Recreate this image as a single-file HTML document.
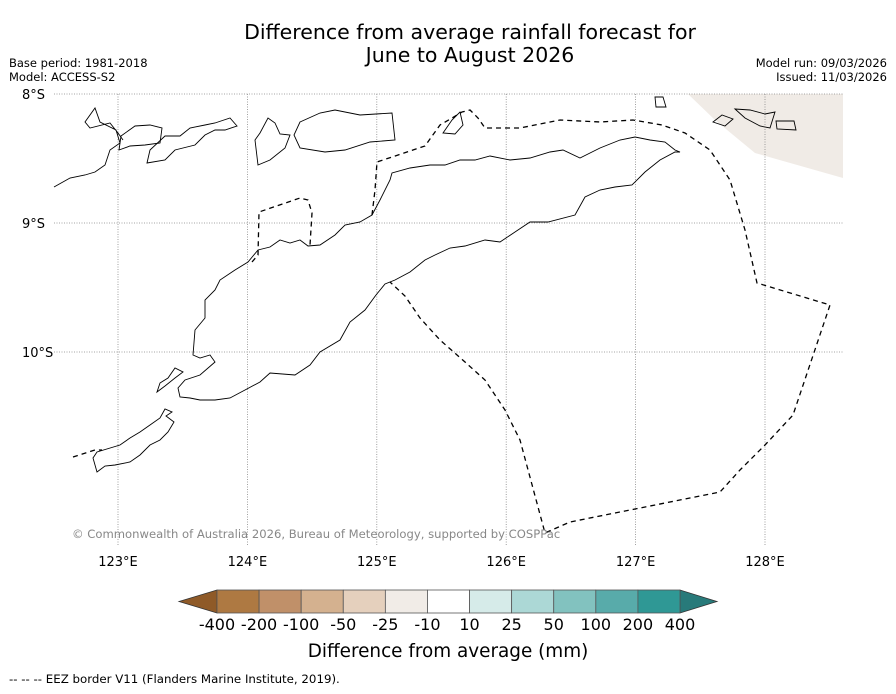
<!DOCTYPE html>
<html><head><meta charset="utf-8"><style>
body{margin:0;background:#fff;font-family:"DejaVu Sans","Liberation Sans",sans-serif;}
svg text{font-family:"DejaVu Sans","Liberation Sans",sans-serif;}
</style></head><body>
<svg width="896" height="690" viewBox="0 0 896 690">
<rect width="896" height="690" fill="#fff"/>
<text x="470" y="39" font-size="20.5" text-anchor="middle">Difference from average rainfall forecast for</text>
<text x="470" y="62" font-size="20.5" text-anchor="middle">June to August 2026</text>
<text x="9" y="67" font-size="11.5">Base period: 1981-2018</text>
<text x="9" y="81" font-size="11.5">Model: ACCESS-S2</text>
<text x="887" y="67" font-size="11.5" text-anchor="end">Model run: 09/03/2026</text>
<text x="887" y="81" font-size="11.5" text-anchor="end">Issued: 11/03/2026</text>
<g id="map">
<polygon points="688,94 843,94 843,178 755,153 715,120" fill="#f0ebe6"/>
<g id="grid" stroke="#888" stroke-width="0.8" stroke-dasharray="1,1.5"></g>
<g fill="none" stroke="#000" stroke-width="0.9">
<polygon points="193,355 195,330 205,318 205,300 215,290 220,280 235,270 248,262 258,250 270,247 280,240 290,243 300,240 308,246 320,245 335,235 345,225 360,222 372,215 380,200 390,180 392,173 410,168 430,165 445,165 460,160 475,160 490,156 510,160 530,158 550,152 563,150 580,158 600,148 620,140 635,137 650,140 665,142 675,150 680,152 675,152 660,160 645,172 632,185 615,187 600,190 585,197 575,215 548,222 530,222 515,232 500,242 485,240 465,246 450,248 435,255 425,260 410,272 395,280 385,284 376,295 365,310 350,322 340,340 320,352 310,365 295,375 270,373 260,382 245,390 230,398 215,400 200,400 190,398 180,397 178,388 185,380 200,375 215,362 210,355 200,358"/>
<polygon points="97,472 105,466 115,465 130,462 140,455 150,445 160,440 168,432 174,422 166,416 172,412 165,409 160,418 150,425 140,432 130,438 120,445 97,452 93,458"/>
<polygon points="157,392 165,386 175,378 183,372 175,368 168,378 160,383"/>
<polyline points="54,187 70,178 85,175 95,172 105,165 110,150 120,143 116,130 100,122 95,108 85,122 90,128 110,123 118,133 123,140"/>
<polygon points="119,150 130,146 145,145 160,143 162,128 150,125 135,126 121,136"/>
<polygon points="147,163 165,160 175,150 195,145 205,135 215,130 225,130 237,126 230,118 215,123 205,125 190,128 180,136 165,136 150,150"/>
<polygon points="258,165 270,160 285,148 290,135 280,134 275,123 268,118 260,133 255,140"/>
<polygon points="300,122 320,113 335,110 360,115 392,113 395,140 370,142 345,150 325,152 300,148 294,135"/>
<polygon points="443,133 452,120 460,112 463,125 455,134"/>
<polygon points="655,97 663,97 666,107 656,107"/>
<polygon points="713,122 722,115 733,119 725,126"/>
<polygon points="735,109 750,110 765,114 775,112 770,128 760,126 745,118"/>
<polygon points="776,121 794,121 796,130 777,129"/>
</g>
<g fill="none" stroke="#000" stroke-width="1.3" stroke-dasharray="5,4">
<polyline points="252,262 258,255 259,212 300,198 308,200 312,213 310,245"/>
<polyline points="372,215 375,190 377,162 425,146 440,125 452,118 462,112 470,110 478,118 485,128 520,128 560,120 600,122 633,120 662,125 685,133 710,150 730,180 745,230 757,283 830,305 793,415 765,445 740,470 720,492 570,522 545,533 520,440 505,410 485,380 465,362 440,340 420,318 405,296 390,282"/>
<polyline points="73,457 95,450 102,450"/>
</g>
<text x="72" y="538" font-size="11.6" fill="#888">© Commonwealth of Australia 2026, Bureau of Meteorology, supported by COSPPac</text>
<g id="axislabels" font-size="13"></g>
</g>
<g id="cbar"></g>
<text x="448" y="657" font-size="18.4" text-anchor="middle">Difference from average (mm)</text>
<text x="9" y="683" font-size="11.8">--  --  -- EEZ border V11 (Flanders Marine Institute, 2019).</text>
</svg>
<script>
const lonTicks=[123,124,125,126,127,128];
const latTicks=[8,9,10];
const cbarLabels=["-400","-200","-100","-50","-25","-10","10","25","50","100","200","400"];
const cbarColors=["#ae7942","#c09069","#d4b18f","#e5d0bd","#f1ece7","#ffffff","#d6ebe9","#acd8d6","#82c2bf","#58abaa","#2f9895"];
const lowColor="#8f5a28", highColor="#287a7a";
const NS="http://www.w3.org/2000/svg";
const xOf=lon=>118+(lon-123)*129.4;
const yOf=lat=>94+(lat-8)*129;
const grid=document.getElementById('grid'), al=document.getElementById('axislabels');
function mk(t,a,p){const e=document.createElementNS(NS,t);for(const k in a)e.setAttribute(k,a[k]);p.appendChild(e);return e;}
lonTicks.forEach(l=>{
 const ln=mk('line',{x1:xOf(l),x2:xOf(l),y1:94,y2:545},grid);
 
 
 const t=mk('text',{x:xOf(l),y:566,'text-anchor':'middle'},al);t.textContent=l+"°E";
 
 
});
latTicks.forEach(l=>{
 const ln=mk('line',{x1:54,x2:843,y1:yOf(l),y2:yOf(l)},grid);
 
 
 const t=mk('text',{x:22,y:yOf(l)+5},al);t.textContent=l+"°S";
 
 
});
const cb=document.getElementById('cbar');
const x0=217,x1=680,y0=590,h=23,w=(x1-x0)/cbarColors.length;
const lt=mk('polygon',{points:`${x0},${y0} ${x0},${y0+h} 179,${y0+h/2}`,fill:lowColor,stroke:'#333','stroke-width':0.8},cb);


const rt=mk('polygon',{points:`${x1},${y0} ${x1},${y0+h} 717,${y0+h/2}`,fill:highColor,stroke:'#333','stroke-width':0.8},cb);


cbarColors.forEach((c,i)=>{
 const r=mk('rect',{x:x0+i*w,y:y0,width:w,height:h,fill:c,stroke:'#555','stroke-width':0.8},cb);
 
 
});
cbarLabels.forEach((s,i)=>{
 const t=mk('text',{x:x0+i*w,y:630,'font-size':16,'text-anchor':'middle'},cb);t.textContent=s;
 
 
});
</script>
</body></html>
